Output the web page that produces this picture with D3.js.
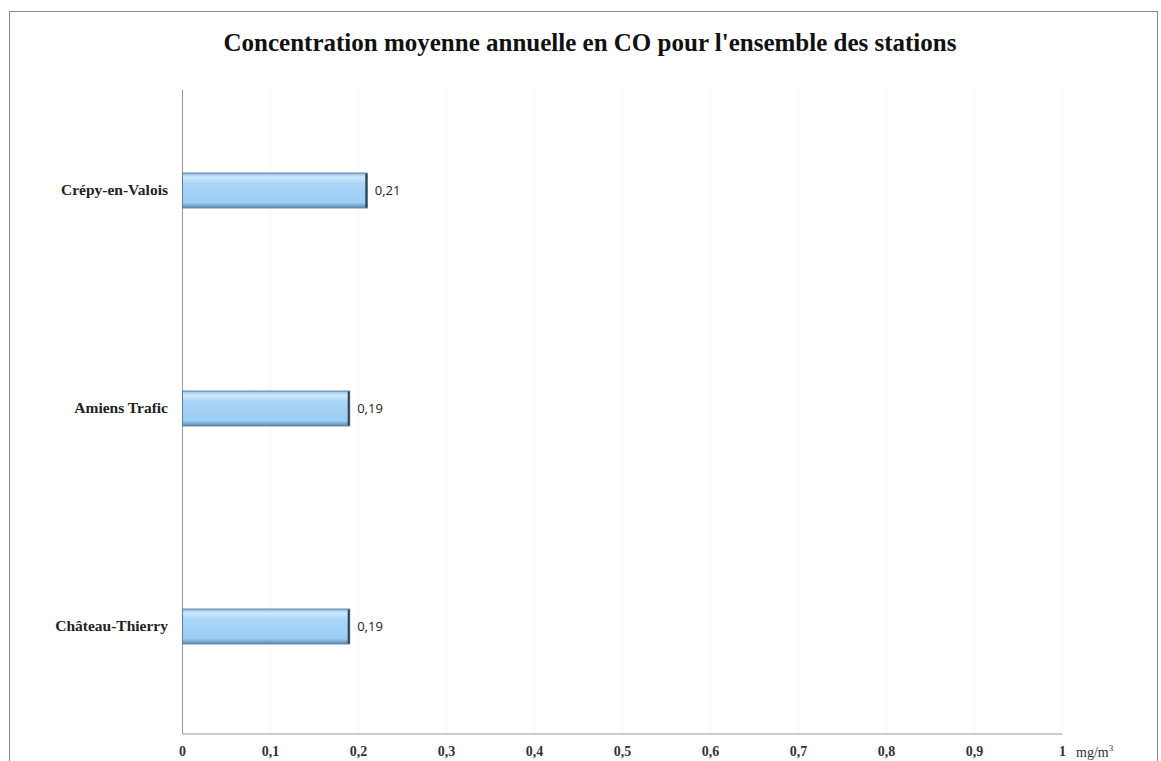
<!DOCTYPE html>
<html><head><meta charset="utf-8">
<script src="https://cdn.jsdelivr.net/npm/d3@7"></script>
<style>body{margin:0;background:#fff}</style>
</head><body><svg id="c" width="1161" height="761"></svg>
<script>
const categories = ["Crépy-en-Valois", "Amiens Trafic", "Château-Thierry"];
const values = [0.21, 0.19, 0.19];
const valueLabels = ["0,21", "0,19", "0,19"];
const ticks = [0,0.1,0.2,0.3,0.4,0.5,0.6,0.7,0.8,0.9,1];
const tickLabels = ["0","0,1","0,2","0,3","0,4","0,5","0,6","0,7","0,8","0,9","1"];
const title = "Concentration moyenne annuelle en CO pour l'ensemble des stations";

const svg = d3.select("#c");
const defs = svg.append("defs");
const g1 = defs.append("linearGradient").attr("id","bar").attr("x1",0).attr("y1",0).attr("x2",0).attr("y2",1);
g1.append("stop").attr("offset","0%").attr("stop-color","#8fbfe6");
g1.append("stop").attr("offset","12%").attr("stop-color","#cde8fc");
g1.append("stop").attr("offset","30%").attr("stop-color","#a9d6f8");
g1.append("stop").attr("offset","85%").attr("stop-color","#9ccdf3");
g1.append("stop").attr("offset","100%").attr("stop-color","#5b86ad");

// frame
svg.append("rect").attr("x",9.5).attr("y",11.5).attr("width",1148).attr("height",760)
  .attr("fill","none").attr("stroke","#8a8a8a").attr("stroke-width",1);

const x = d3.scaleLinear().domain([0,1]).range([182,1062]);
const y = d3.scaleBand().domain(categories).range([81,735]).paddingInner(0.84).paddingOuter(0.42);

// faint gridlines
svg.append("g").selectAll("line").data(ticks.slice(1)).join("line")
  .attr("x1",d=>x(d)+0.5).attr("x2",d=>x(d)+0.5).attr("y1",90).attr("y2",733)
  .attr("stroke","#f6f6f6").attr("stroke-width",1);

// axes
const xAxis = svg.append("g").attr("transform","translate(0,733.5)")
  .call(d3.axisBottom(x).tickValues(ticks).tickFormat((d,i)=>tickLabels[i]).tickSize(0).tickPadding(13));
xAxis.select(".domain").attr("stroke","#9a9a9a");
xAxis.selectAll("text").attr("font-family","'Liberation Serif', serif").attr("font-weight","bold")
  .attr("font-size",14).attr("fill","#333");

svg.append("line").attr("x1",182.5).attr("x2",182.5).attr("y1",90).attr("y2",734).attr("stroke","#9a9a9a");

const yAxis = svg.append("g").attr("transform","translate(182,0)")
  .call(d3.axisLeft(y).tickSize(0).tickPadding(14));
yAxis.select(".domain").remove();
yAxis.selectAll("text").attr("font-family","'Liberation Serif', serif").attr("font-weight","bold")
  .attr("font-size",15.5).attr("fill","#222");

// bars
const bars = svg.append("g").selectAll("g").data(values).join("g");
bars.append("rect").attr("x",x(0)+0.5).attr("y",(d,i)=>y(categories[i])+0.5)
  .attr("width",d=>x(d)-x(0)).attr("height",y.bandwidth())
  .attr("fill","url(#bar)").attr("stroke","#5d7f9e").attr("stroke-width",1);
bars.append("line").attr("x1",d=>x(d)-0.5).attr("x2",d=>x(d)-0.5)
  .attr("y1",(d,i)=>y(categories[i])+1).attr("y2",(d,i)=>y(categories[i])+y.bandwidth())
  .attr("stroke","#2c4358").attr("stroke-width",2);
bars.append("text").attr("x",d=>x(d)+8).attr("y",(d,i)=>y(categories[i])+y.bandwidth()/2)
  .attr("dy","0.35em").attr("font-family","'Open Sans', sans-serif").attr("font-size",13)
  .attr("fill","#222").text((d,i)=>valueLabels[i]);

// unit
const u = svg.append("text").attr("x",1076).attr("y",757).attr("font-family","'Liberation Serif', serif")
  .attr("font-size",14).attr("fill","#333");
u.append("tspan").text("mg/m");
u.append("tspan").attr("font-size",9).attr("dy",-6).text("3");

// title
svg.append("text").attr("x",590).attr("y",51).attr("text-anchor","middle")
  .attr("font-family","'Liberation Serif', serif").attr("font-weight","bold").attr("font-size",25)
  .attr("fill","#111").text(title);
</script></body></html>
